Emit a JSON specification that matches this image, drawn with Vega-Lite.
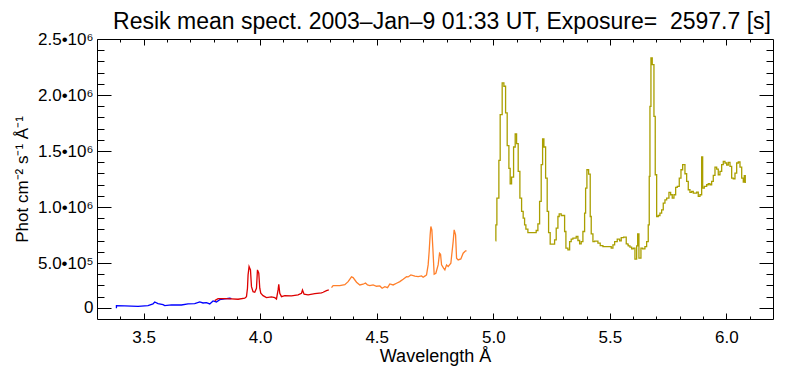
{
  "$schema": "https://vega.github.io/schema/vega-lite/v6.json",
  "width": 676,
  "height": 280,
  "autosize": "none",
  "padding": {"left": 97, "top": 39, "right": 16, "bottom": 53},
  "background": "white",
  "config": {
    "view": {"stroke": null},
    "font": "Liberation Sans",
    "axis": {"labelFont": "Liberation Sans", "titleFont": "Liberation Sans", "labelColor": "black", "titleColor": "black", "domainColor": "black", "tickColor": "black", "grid": false, "labelFontSize": 17, "titleFontSize": 17, "titleFontWeight": "normal", "labelOverlap": false, "labelFlush": false}
  },
  "title": {"text": "Resik mean spect. 2003–Jan–9 01:33 UT, Exposure= \u00a02597.7 [s]", "fontSize": 23, "fontWeight": "normal", "font": "Liberation Sans", "color": "black", "anchor": "middle", "frame": "group", "offset": 9, "dx": 7, "dy": 13},
  "datasets": {
    "spec": [
      {"wl": 3.3833, "flux": 95700, "seg": "b"},
      {"wl": 3.3834, "flux": 119000, "seg": "b"},
      {"wl": 3.4189, "flux": 116300, "seg": "b"},
      {"wl": 3.4760, "flux": 113600, "seg": "b"},
      {"wl": 3.5189, "flux": 119000, "seg": "b"},
      {"wl": 3.5403, "flux": 134200, "seg": "b"},
      {"wl": 3.5476, "flux": 152100, "seg": "b"},
      {"wl": 3.5618, "flux": 136900, "seg": "b"},
      {"wl": 3.5833, "flux": 127900, "seg": "b"},
      {"wl": 3.5906, "flux": 119000, "seg": "b"},
      {"wl": 3.6193, "flux": 125200, "seg": "b"},
      {"wl": 3.6622, "flux": 125200, "seg": "b"},
      {"wl": 3.6906, "flux": 134200, "seg": "b"},
      {"wl": 3.7193, "flux": 136900, "seg": "b"},
      {"wl": 3.7408, "flux": 152100, "seg": "b"},
      {"wl": 3.7549, "flux": 143100, "seg": "b"},
      {"wl": 3.7695, "flux": 145800, "seg": "b"},
      {"wl": 3.7837, "flux": 134200, "seg": "b"},
      {"wl": 3.7979, "flux": 161000, "seg": "b"},
      {"wl": 3.8124, "flux": 152100, "seg": "b"},
      {"wl": 3.8266, "flux": 172600, "seg": "b"},
      {"wl": 3.8481, "flux": 178900, "seg": "b"},
      {"wl": 3.8695, "flux": 185200, "seg": "b"},
      {"wl": 3.8768, "flux": 181600, "seg": "b"},
      {"wl": 3.8052, "flux": 163700, "seg": "r"},
      {"wl": 3.8193, "flux": 181600, "seg": "r"},
      {"wl": 3.8481, "flux": 181600, "seg": "r"},
      {"wl": 3.8768, "flux": 178900, "seg": "r"},
      {"wl": 3.9052, "flux": 176200, "seg": "r"},
      {"wl": 3.9339, "flux": 185200, "seg": "r"},
      {"wl": 3.9412, "flux": 199500, "seg": "r"},
      {"wl": 3.9455, "flux": 274600, "seg": "r"},
      {"wl": 3.9481, "flux": 393600, "seg": "r"},
      {"wl": 3.9524, "flux": 467800, "seg": "r"},
      {"wl": 3.9584, "flux": 438300, "seg": "r"},
      {"wl": 3.9627, "flux": 288900, "seg": "r"},
      {"wl": 3.9695, "flux": 244200, "seg": "r"},
      {"wl": 3.9768, "flux": 238800, "seg": "r"},
      {"wl": 3.9841, "flux": 274600, "seg": "r"},
      {"wl": 3.9884, "flux": 438300, "seg": "r"},
      {"wl": 3.9940, "flux": 408800, "seg": "r"},
      {"wl": 3.9983, "flux": 274600, "seg": "r"},
      {"wl": 4.0026, "flux": 229900, "seg": "r"},
      {"wl": 4.0124, "flux": 208400, "seg": "r"},
      {"wl": 4.0270, "flux": 190500, "seg": "r"},
      {"wl": 4.0485, "flux": 196800, "seg": "r"},
      {"wl": 4.0627, "flux": 190500, "seg": "r"},
      {"wl": 4.0700, "flux": 178900, "seg": "r"},
      {"wl": 4.0768, "flux": 259400, "seg": "r"},
      {"wl": 4.0798, "flux": 310400, "seg": "r"},
      {"wl": 4.0841, "flux": 229900, "seg": "r"},
      {"wl": 4.0914, "flux": 199500, "seg": "r"},
      {"wl": 4.1056, "flux": 208400, "seg": "r"},
      {"wl": 4.1343, "flux": 205700, "seg": "r"},
      {"wl": 4.1627, "flux": 214700, "seg": "r"},
      {"wl": 4.1773, "flux": 229900, "seg": "r"},
      {"wl": 4.1815, "flux": 259400, "seg": "r"},
      {"wl": 4.1884, "flux": 220900, "seg": "r"},
      {"wl": 4.2056, "flux": 214700, "seg": "r"},
      {"wl": 4.2343, "flux": 226300, "seg": "r"},
      {"wl": 4.2631, "flux": 232600, "seg": "r"},
      {"wl": 4.2700, "flux": 238800, "seg": "r"},
      {"wl": 4.2845, "flux": 253100, "seg": "r"},
      {"wl": 4.2944, "flux": 259400, "seg": "r"},
      {"wl": 4.3060, "flux": 280000, "seg": "o"},
      {"wl": 4.3129, "flux": 297900, "seg": "o"},
      {"wl": 4.3416, "flux": 297900, "seg": "o"},
      {"wl": 4.3631, "flux": 306800, "seg": "o"},
      {"wl": 4.3773, "flux": 333600, "seg": "o"},
      {"wl": 4.3918, "flux": 375700, "seg": "o"},
      {"wl": 4.3987, "flux": 369400, "seg": "o"},
      {"wl": 4.4133, "flux": 328300, "seg": "o"},
      {"wl": 4.4275, "flux": 304100, "seg": "o"},
      {"wl": 4.4416, "flux": 310400, "seg": "o"},
      {"wl": 4.4519, "flux": 322000, "seg": "o"},
      {"wl": 4.4605, "flux": 304100, "seg": "o"},
      {"wl": 4.4704, "flux": 297900, "seg": "o"},
      {"wl": 4.4845, "flux": 304100, "seg": "o"},
      {"wl": 4.4991, "flux": 292500, "seg": "o"},
      {"wl": 4.5133, "flux": 295200, "seg": "o"},
      {"wl": 4.5232, "flux": 274600, "seg": "o"},
      {"wl": 4.5348, "flux": 288900, "seg": "o"},
      {"wl": 4.5464, "flux": 280000, "seg": "o"},
      {"wl": 4.5562, "flux": 313100, "seg": "o"},
      {"wl": 4.5704, "flux": 304100, "seg": "o"},
      {"wl": 4.5850, "flux": 319300, "seg": "o"},
      {"wl": 4.5991, "flux": 333600, "seg": "o"},
      {"wl": 4.6133, "flux": 355100, "seg": "o"},
      {"wl": 4.6279, "flux": 378400, "seg": "o"},
      {"wl": 4.6348, "flux": 375700, "seg": "o"},
      {"wl": 4.6464, "flux": 393600, "seg": "o"},
      {"wl": 4.6635, "flux": 381900, "seg": "o"},
      {"wl": 4.6777, "flux": 378400, "seg": "o"},
      {"wl": 4.6923, "flux": 384600, "seg": "o"},
      {"wl": 4.6991, "flux": 373000, "seg": "o"},
      {"wl": 4.7094, "flux": 387300, "seg": "o"},
      {"wl": 4.7137, "flux": 393600, "seg": "o"},
      {"wl": 4.7206, "flux": 483000, "seg": "o"},
      {"wl": 4.7249, "flux": 602000, "seg": "o"},
      {"wl": 4.7292, "flux": 751400, "seg": "o"},
      {"wl": 4.7322, "flux": 825600, "seg": "o"},
      {"wl": 4.7365, "flux": 796100, "seg": "o"},
      {"wl": 4.7408, "flux": 632400, "seg": "o"},
      {"wl": 4.7464, "flux": 399800, "seg": "o"},
      {"wl": 4.7536, "flux": 408800, "seg": "o"},
      {"wl": 4.7635, "flux": 483000, "seg": "o"},
      {"wl": 4.7695, "flux": 587700, "seg": "o"},
      {"wl": 4.7738, "flux": 578700, "seg": "o"},
      {"wl": 4.7781, "flux": 483000, "seg": "o"},
      {"wl": 4.7867, "flux": 453500, "seg": "o"},
      {"wl": 4.7923, "flux": 438300, "seg": "o"},
      {"wl": 4.7996, "flux": 483000, "seg": "o"},
      {"wl": 4.8064, "flux": 467800, "seg": "o"},
      {"wl": 4.8180, "flux": 498200, "seg": "o"},
      {"wl": 4.8279, "flux": 691400, "seg": "o"},
      {"wl": 4.8322, "flux": 796100, "seg": "o"},
      {"wl": 4.8382, "flux": 751400, "seg": "o"},
      {"wl": 4.8425, "flux": 543000, "seg": "o"},
      {"wl": 4.8494, "flux": 527800, "seg": "o"},
      {"wl": 4.8609, "flux": 536700, "seg": "o"},
      {"wl": 4.8708, "flux": 587700, "seg": "o"},
      {"wl": 4.8811, "flux": 608300, "seg": "o"},
      {"wl": 4.8854, "flux": 608300, "seg": "o"}
    ],
    "caxis": [
      {"wl": 5.0097, "flux": 697700},
      {"wl": 5.0111, "flux": 840800},
      {"wl": 5.0155, "flux": 1079500},
      {"wl": 5.0240, "flux": 1416300},
      {"wl": 5.0296, "flux": 1824800},
      {"wl": 5.0382, "flux": 2108000},
      {"wl": 5.0455, "flux": 2078300},
      {"wl": 5.0528, "flux": 1839700},
      {"wl": 5.0597, "flux": 1547500},
      {"wl": 5.0670, "flux": 1344600},
      {"wl": 5.0725, "flux": 1207600},
      {"wl": 5.0785, "flux": 1267100},
      {"wl": 5.0871, "flux": 1535500},
      {"wl": 5.0940, "flux": 1651700},
      {"wl": 5.1000, "flux": 1565400},
      {"wl": 5.1069, "flux": 1317800},
      {"wl": 5.1142, "flux": 1079500},
      {"wl": 5.1215, "flux": 960100},
      {"wl": 5.1283, "flux": 900500},
      {"wl": 5.1343, "flux": 840800},
      {"wl": 5.1399, "flux": 802100},
      {"wl": 5.1485, "flux": 772100},
      {"wl": 5.1841, "flux": 790100},
      {"wl": 5.1914, "flux": 849800},
      {"wl": 5.1987, "flux": 1049600},
      {"wl": 5.2056, "flux": 1377500},
      {"wl": 5.2116, "flux": 1607100},
      {"wl": 5.2172, "flux": 1535500},
      {"wl": 5.2245, "flux": 1258200},
      {"wl": 5.2313, "flux": 960100},
      {"wl": 5.2373, "flux": 772100},
      {"wl": 5.2442, "flux": 667700},
      {"wl": 5.2631, "flux": 706700},
      {"wl": 5.2700, "flux": 810800},
      {"wl": 5.2773, "flux": 915300},
      {"wl": 5.2828, "flux": 939200},
      {"wl": 5.2914, "flux": 924300},
      {"wl": 5.3060, "flux": 781200},
      {"wl": 5.3116, "flux": 632000},
      {"wl": 5.3202, "flux": 617200},
      {"wl": 5.3275, "flux": 691700},
      {"wl": 5.3343, "flux": 712600},
      {"wl": 5.3416, "flux": 721600},
      {"wl": 5.3558, "flux": 736500},
      {"wl": 5.3631, "flux": 700700},
      {"wl": 5.3704, "flux": 670900},
      {"wl": 5.3773, "flux": 691700},
      {"wl": 5.3845, "flux": 781200},
      {"wl": 5.3918, "flux": 945200},
      {"wl": 5.3961, "flux": 1168800},
      {"wl": 5.4017, "flux": 1332800},
      {"wl": 5.4090, "flux": 1294000},
      {"wl": 5.4159, "flux": 915300},
      {"wl": 5.4202, "flux": 760300},
      {"wl": 5.4275, "flux": 691700},
      {"wl": 5.4348, "flux": 694700},
      {"wl": 5.4489, "flux": 676700},
      {"wl": 5.4588, "flux": 655400},
      {"wl": 5.4704, "flux": 646700},
      {"wl": 5.5060, "flux": 632000},
      {"wl": 5.5133, "flux": 661900},
      {"wl": 5.5206, "flux": 691700},
      {"wl": 5.5318, "flux": 712600},
      {"wl": 5.5420, "flux": 697700},
      {"wl": 5.5489, "flux": 727300},
      {"wl": 5.5592, "flux": 730800},
      {"wl": 5.5704, "flux": 670900},
      {"wl": 5.5777, "flux": 661900},
      {"wl": 5.5790, "flux": 653000},
      {"wl": 5.5863, "flux": 641000},
      {"wl": 5.5936, "flux": 626200},
      {"wl": 5.6004, "flux": 632000},
      {"wl": 5.6077, "flux": 534000},
      {"wl": 5.6150, "flux": 653000},
      {"wl": 5.6193, "flux": 760300},
      {"wl": 5.6249, "flux": 543000},
      {"wl": 5.6335, "flux": 632000},
      {"wl": 5.6408, "flux": 626200},
      {"wl": 5.6506, "flux": 646700},
      {"wl": 5.6579, "flux": 691700},
      {"wl": 5.6648, "flux": 840800},
      {"wl": 5.6691, "flux": 1272900},
      {"wl": 5.6721, "flux": 1899000},
      {"wl": 5.6764, "flux": 2332000},
      {"wl": 5.6820, "flux": 2272000},
      {"wl": 5.6893, "flux": 1809600},
      {"wl": 5.6948, "flux": 1288100},
      {"wl": 5.7009, "flux": 915300},
      {"wl": 5.7077, "flux": 924300},
      {"wl": 5.7150, "flux": 945200},
      {"wl": 5.7223, "flux": 975000},
      {"wl": 5.7292, "flux": 1034900},
      {"wl": 5.7365, "flux": 1064500},
      {"wl": 5.7438, "flux": 1079500},
      {"wl": 5.7536, "flux": 1129800},
      {"wl": 5.7609, "flux": 1109200},
      {"wl": 5.7678, "flux": 1079500},
      {"wl": 5.7751, "flux": 1109200},
      {"wl": 5.7824, "flux": 1174500},
      {"wl": 5.7893, "flux": 1183400},
      {"wl": 5.7979, "flux": 1258200},
      {"wl": 5.8052, "flux": 1332800},
      {"wl": 5.8124, "flux": 1377500},
      {"wl": 5.8223, "flux": 1297000},
      {"wl": 5.8296, "flux": 1228200},
      {"wl": 5.8365, "flux": 1153900},
      {"wl": 5.8438, "flux": 1129800},
      {"wl": 5.8511, "flux": 1138700},
      {"wl": 5.8580, "flux": 1124400},
      {"wl": 5.8725, "flux": 1133300},
      {"wl": 5.8794, "flux": 1094000},
      {"wl": 5.8867, "flux": 1109200},
      {"wl": 5.8940, "flux": 1446400},
      {"wl": 5.8983, "flux": 1168800},
      {"wl": 5.9052, "flux": 1183400},
      {"wl": 5.9155, "flux": 1198600},
      {"wl": 5.9223, "flux": 1207600},
      {"wl": 5.9296, "flux": 1198600},
      {"wl": 5.9369, "flux": 1228200},
      {"wl": 5.9438, "flux": 1281800},
      {"wl": 5.9511, "flux": 1356900},
      {"wl": 5.9584, "flux": 1339000},
      {"wl": 5.9652, "flux": 1288100},
      {"wl": 5.9725, "flux": 1317600},
      {"wl": 5.9798, "flux": 1377500},
      {"wl": 5.9867, "flux": 1407000},
      {"wl": 5.9940, "flux": 1392700},
      {"wl": 6.0013, "flux": 1374800},
      {"wl": 6.0082, "flux": 1398100},
      {"wl": 6.0155, "flux": 1362300},
      {"wl": 6.0227, "flux": 1258200},
      {"wl": 6.0296, "flux": 1252300},
      {"wl": 6.0369, "flux": 1303300},
      {"wl": 6.0442, "flux": 1392700},
      {"wl": 6.0511, "flux": 1401700},
      {"wl": 6.0584, "flux": 1356900},
      {"wl": 6.0657, "flux": 1258200},
      {"wl": 6.0725, "flux": 1222800},
      {"wl": 6.0768, "flux": 1279100},
      {"wl": 6.0811, "flux": 1213800}
    ]
  },
  "layer": [
    {
      "data": {"name": "spec"},
      "mark": {"type": "line", "strokeWidth": 1.3, "clip": true},
      "encoding": {
        "x": {"field": "wl", "type": "quantitative", "scale": {"domain": [3.3, 6.2], "nice": false, "zero": false},
          "axis": {"orient": "bottom", "title": "Wavelength Å", "titlePadding": -1, "titleFontSize": 18,
            "values": [3.4,3.5,3.6,3.7,3.8,3.9,4.0,4.1,4.2,4.3,4.4,4.5,4.6,4.7,4.8,4.9,5.0,5.1,5.2,5.3,5.4,5.5,5.6,5.7,5.8,5.9,6.0,6.1],
            "labelExpr": "abs(datum.value*2 - round(datum.value*2)) < 0.001 ? format(datum.value, '.1f') : ''",
            "tickSize": {"condition": {"test": "abs(datum.value*2 - round(datum.value*2)) < 0.001", "value": -6}, "value": -3},
            "labelPadding": 16}},
        "y": {"field": "flux", "type": "quantitative", "scale": {"domain": [0, 2500000], "nice": false, "zero": false},
          "axis": {"orient": "left", "title": "Phot cm⁻² s⁻¹ Å⁻¹", "titlePadding": 6,
            "values": [100000,200000,300000,400000,500000,600000,700000,800000,900000,1000000,1100000,1200000,1300000,1400000,1500000,1600000,1700000,1800000,1900000,2000000,2100000,2200000,2300000,2400000,2500000],
            "labelExpr": "datum.value == 100000 ? '0' : datum.value == 500000 ? '5.0•10⁵' : (datum.value % 500000 == 0 ? format(datum.value/1000000, '.1f') + '•10⁶' : '')",
            "tickSize": {"condition": {"test": "datum.value == 100000 || datum.value % 500000 == 0", "value": -14}, "value": -7},
            "labelPadding": 18}},
        "color": {"field": "seg", "type": "nominal", "scale": {"domain": ["b", "r", "o"], "range": ["#0000ff", "#dd0000", "#ff7f2a"]}, "legend": null},
        "order": {"field": "wl", "type": "quantitative"}
      }
    },
    {
      "data": {"name": "caxis"},
      "mark": {"type": "line", "strokeWidth": 1.3, "color": "#aa9f00", "interpolate": "step-after", "clip": true},
      "encoding": {
        "x": {"field": "wl", "type": "quantitative",
          "axis": {"orient": "top", "title": null, "labels": false,
            "values": [3.4,3.5,3.6,3.7,3.8,3.9,4.0,4.1,4.2,4.3,4.4,4.5,4.6,4.7,4.8,4.9,5.0,5.1,5.2,5.3,5.4,5.5,5.6,5.7,5.8,5.9,6.0,6.1],
            "tickSize": {"condition": {"test": "abs(datum.value*2 - round(datum.value*2)) < 0.001", "value": -6}, "value": -3}}},
        "y": {"field": "flux", "type": "quantitative",
          "axis": {"orient": "right", "title": null, "labels": false,
            "values": [100000,200000,300000,400000,500000,600000,700000,800000,900000,1000000,1100000,1200000,1300000,1400000,1500000,1600000,1700000,1800000,1900000,2000000,2100000,2200000,2300000,2400000],
            "tickSize": {"condition": {"test": "datum.value == 100000 || datum.value % 500000 == 0", "value": -14}, "value": -7}}}
      }
    }
  ],
  "resolve": {"axis": {"x": "independent", "y": "independent"}}
}
